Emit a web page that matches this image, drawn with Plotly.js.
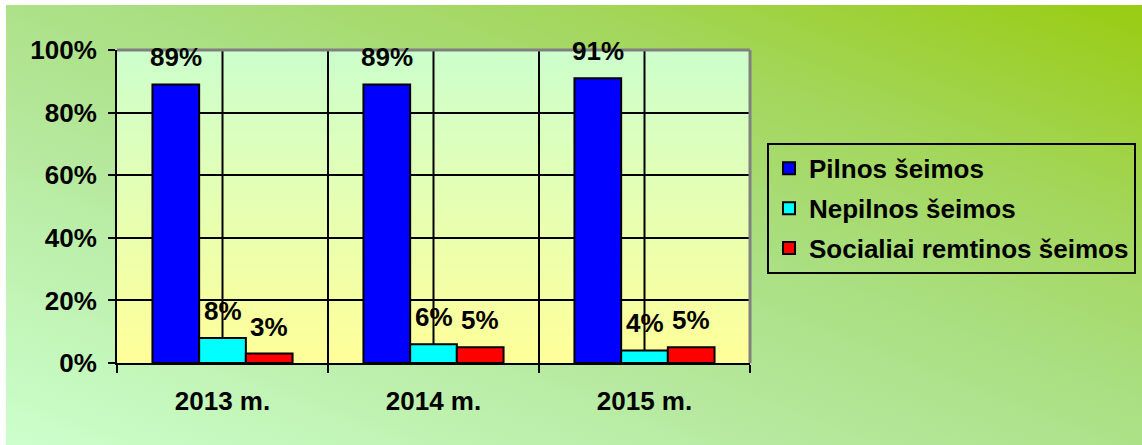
<!DOCTYPE html>
<html>
<head>
<meta charset="utf-8">
<script src="https://cdn.plot.ly/plotly-3.0.1.min.js"></script>
<style>
html,body{margin:0;padding:0;background:#ffffff;}
#wrap{position:absolute;left:6px;top:5px;width:1136px;height:440px;
 background:linear-gradient(to top right,#ccffcc 0%,#b6e99e 35%,#aadf82 55%,#a3d65a 75%,#99cc11 100%);}
#chart{width:1136px;height:440px;}
</style>
</head>
<body>
<div id="wrap"><div id="chart"></div></div>
<script>
const categories = ['2013 m.', '2014 m.', '2015 m.'];
const seriesNames = ['Pilnos šeimos', 'Nepilnos šeimos', 'Socialiai remtinos šeimos'];
const pilnos = [89, 89, 91];
const nepilnos = [8, 6, 4];
const socialiai = [3, 5, 5];
const yTicks = [0, 20, 40, 60, 80, 100];

const seriesValues = [pilnos, nepilnos, socialiai];
const seriesColors = ['#0000ff', '#00ffff', '#ff0000'];

const W = 1136, H = 440;
const margin = {l: 111, r: 392, t: 45, b: 82, pad: 0};
const bargap = 0.336;
const FONT = {family: 'Liberation Sans, Arial, sans-serif', size: 26, color: '#000000', weight: 'bold'};

const traces = seriesNames.map((name, i) => ({
  type: 'bar',
  name: name,
  x: categories,
  y: seriesValues[i],
  legendgroup: 'g' + i,
  marker: {color: seriesColors[i], line: {color: '#000000', width: 2}},
  hoverinfo: 'skip'
}));

const plotW = W - margin.l - margin.r;
const barW = plotW / categories.length * (1 - bargap) / seriesNames.length;

const annotations = [];
seriesValues.forEach((vals, si) => {
  vals.forEach((v, ci) => {
    annotations.push({
      x: categories[ci], y: v, xref: 'x', yref: 'y',
      text: v + '%', showarrow: false,
      xshift: (si - 1) * barW, yshift: 27,
      xanchor: 'center', yanchor: 'middle',
      font: FONT
    });
  });
});

const shapes = [];
categories.forEach((c, i) => {
  shapes.push({type: 'line', xref: 'x', yref: 'y', x0: i, x1: i, y0: 0, y1: 100,
    line: {color: '#000000', width: 2}, layer: 'below'});
});
shapes.push({type: 'line', xref: 'paper', yref: 'paper', x0: 0, x1: 1, y0: 1, y1: 1,
  line: {color: '#808080', width: 3}, layer: 'above'});
shapes.push({type: 'line', xref: 'paper', yref: 'paper', x0: 1, x1: 1, y0: 0, y1: 1,
  line: {color: '#808080', width: 3}, layer: 'above'});

const bgSvg = '<svg xmlns="http://www.w3.org/2000/svg" width="100" height="100" preserveAspectRatio="none">' +
  '<defs><linearGradient id="g" x1="0" y1="0" x2="0" y2="1">' +
  '<stop offset="0" stop-color="#ccffcc"/><stop offset="1" stop-color="#ffff99"/></linearGradient></defs>' +
  '<rect width="100" height="100" fill="url(#g)"/></svg>';

const layout = {
  width: W, height: H,
  margin: margin,
  paper_bgcolor: 'rgba(0,0,0,0)',
  plot_bgcolor: 'rgba(0,0,0,0)',
  font: FONT,
  barmode: 'group',
  bargap: bargap,
  bargroupgap: 0,
  showlegend: true,
  legend: {
    xref: 'container', yref: 'container',
    x: 0.6699, y: 0.6865, xanchor: 'left', yanchor: 'top',
    bgcolor: 'rgba(0,0,0,0)', bordercolor: '#000000', borderwidth: 2,
    font: FONT, traceorder: 'grouped', tracegroupgap: 3,
    itemwidth: 30
  },
  xaxis: {
    type: 'category',
    tickson: 'boundaries',
    ticks: 'outside', ticklen: 8, tickwidth: 2, tickcolor: '#000000',
    showline: true, linecolor: '#000000', linewidth: 2,
    showgrid: true, gridcolor: '#000000', gridwidth: 2,
    tickfont: FONT,
    ticklabelstandoff: 14,
    fixedrange: true
  },
  yaxis: {
    range: [0, 100],
    tickvals: yTicks,
    ticktext: yTicks.map(v => v + '%'),
    ticks: 'outside', ticklen: 7, tickwidth: 2, tickcolor: '#000000',
    showline: true, linecolor: '#000000', linewidth: 2,
    showgrid: true, gridcolor: '#000000', gridwidth: 2,
    zeroline: false,
    tickfont: FONT,
    ticklabelstandoff: 6,
    fixedrange: true
  },
  images: [{
    source: 'data:image/svg+xml;charset=utf-8,' + encodeURIComponent(bgSvg),
    xref: 'paper', yref: 'paper', x: 0, y: 1, sizex: 1, sizey: 1,
    xanchor: 'left', yanchor: 'top', sizing: 'stretch', layer: 'below'
  }],
  shapes: shapes,
  annotations: annotations
};

Plotly.newPlot('chart', traces, layout, {displayModeBar: false, staticPlot: true});
</script>
</body>
</html>
